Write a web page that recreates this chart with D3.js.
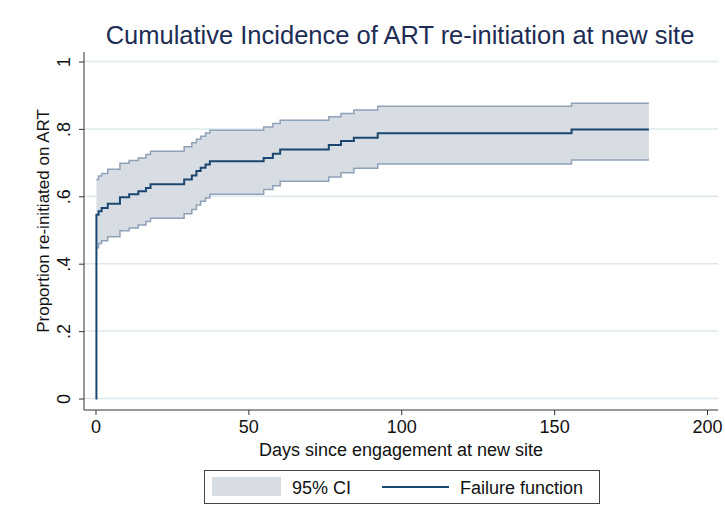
<!DOCTYPE html>
<html>
<head>
<meta charset="utf-8">
<script src="https://cdn.jsdelivr.net/npm/d3@7"></script>
<style>
  body { margin: 0; background: #fff; }
  text { font-family: "Liberation Sans", Arial, Helvetica, sans-serif; }
</style>
</head>
<body>
<div id="chart-area"></div>
<script>
// Data
const days    = [0, 0.3, 1, 2, 4, 8, 11, 14, 16.5, 18, 29, 31.5, 33, 34.4, 36, 37.4, 55, 58, 60.4, 76.3, 80.3, 84.5, 92.3, 155.7, 181]
const failure = [0, 0.545, 0.556, 0.565, 0.578, 0.597, 0.606, 0.615, 0.625, 0.636, 0.650, 0.662, 0.675, 0.685, 0.694, 0.704, 0.714, 0.726, 0.739, 0.752, 0.764, 0.774, 0.787, 0.798, 0.798]
const ciUpper = [null, 0.650, 0.660, 0.668, 0.680, 0.698, 0.706, 0.714, 0.724, 0.734, 0.747, 0.759, 0.769, 0.778, 0.788, 0.796, 0.806, 0.816, 0.826, 0.836, 0.846, 0.856, 0.867, 0.876, 0.876]
const ciLower = [null, 0.447, 0.460, 0.468, 0.480, 0.498, 0.506, 0.515, 0.525, 0.535, 0.548, 0.561, 0.574, 0.585, 0.595, 0.606, 0.620, 0.631, 0.645, 0.657, 0.670, 0.683, 0.696, 0.708, 0.708]

const xTicks = [0, 50, 100, 150, 200]
const yTicks = [0, 0.2, 0.4, 0.6, 0.8, 1]
const yTickLabels = ["0", ".2", ".4", ".6", ".8", "1"]

const titleText = "Cumulative Incidence of ART re-initiation at new site"
const xTitle = "Days since engagement at new site"
const yTitle = "Proportion re-initiated on ART"
const legendLabels = ["95% CI", "Failure function"]

// Canvas
const width = 725, height = 515
const plot = { left: 84, right: 718, top: 52, bottom: 410 }

const svg = d3.select("#chart-area")
	.append("svg")
	.attr("width", width)
	.attr("height", height)

const navy = "#1a476f", bandFill = "#d8dde4", bandEdge = "#8ea2b8", grid = "#dce8ed"

// Scales
const x = d3.scaleLinear().domain([0, 200]).range([95.5, 707])
const y = d3.scaleLinear().domain([0, 1]).range([398.5, 61.5])

// Gridlines
svg.append("g")
	.selectAll("line")
	.data(yTicks)
	.join("line")
	.attr("x1", plot.left).attr("x2", plot.right)
	.attr("y1", d => y(d)).attr("y2", d => y(d))
	.attr("stroke", grid)
	.attr("stroke-width", 1.5)

// CI band
const rows = days.map((d, i) => ({ day: d, f: failure[i], lo: ciLower[i], hi: ciUpper[i] }))
const ciRows = rows.filter(d => d.lo != null)

const area = d3.area()
	.curve(d3.curveStepAfter)
	.x(d => x(d.day))
	.y0(d => y(d.lo))
	.y1(d => y(d.hi))

svg.append("path")
	.attr("d", area(ciRows))
	.attr("fill", bandFill)

const edge = key => d3.line()
	.curve(d3.curveStepAfter)
	.x(d => x(d.day))
	.y(d => y(d[key]))

svg.append("path").attr("d", edge("hi")(ciRows))
	.attr("fill", "none").attr("stroke", bandEdge).attr("stroke-width", 1.5)
svg.append("path").attr("d", edge("lo")(ciRows))
	.attr("fill", "none").attr("stroke", bandEdge).attr("stroke-width", 1.5)

// Failure function
svg.append("path").attr("d", edge("f")(rows))
	.attr("fill", "none").attr("stroke", navy).attr("stroke-width", 2)

// Y axis (Stata style: vertical tick labels)
const yAxis = d3.axisLeft(y)
	.tickValues(yTicks)
	.tickFormat((d, i) => yTickLabels[i])
	.tickSize(5)

const yAxisG = svg.append("g")
	.attr("transform", `translate(${plot.left}, 0)`)
	.call(yAxis)
yAxisG.select(".domain").remove()
yAxisG.append("line")
	.attr("x1", 0).attr("x2", 0)
	.attr("y1", plot.top).attr("y2", plot.bottom)
	.attr("stroke", "#333")
yAxisG.selectAll(".tick line").attr("stroke", "#333")
yAxisG.selectAll(".tick text")
	.attr("x", null).attr("dy", null)
	.attr("font-size", 18)
	.attr("fill", "#111")
	.attr("text-anchor", "middle")
	.attr("dominant-baseline", "central")
	.attr("transform", "translate(-20, 0) rotate(-90)")

// X axis
const xAxis = d3.axisBottom(x)
	.tickValues(xTicks)
	.tickSize(5)
	.tickPadding(5)

const xAxisG = svg.append("g")
	.attr("transform", `translate(0, ${plot.bottom})`)
	.call(xAxis)
xAxisG.select(".domain").remove()
xAxisG.append("line")
	.attr("x1", plot.left).attr("x2", plot.right)
	.attr("y1", 0).attr("y2", 0)
	.attr("stroke", "#333")
xAxisG.selectAll(".tick line").attr("stroke", "#333")
xAxisG.selectAll(".tick text")
	.attr("font-size", 18)
	.attr("fill", "#111")

// Titles
svg.append("text")
	.attr("x", 400).attr("y", 44)
	.attr("text-anchor", "middle")
	.attr("font-size", 25.5)
	.attr("fill", "#1d2d54")
	.text(titleText)

svg.append("text")
	.attr("x", 401).attr("y", 456)
	.attr("text-anchor", "middle")
	.attr("font-size", 18)
	.attr("fill", "#111")
	.text(xTitle)

svg.append("text")
	.attr("transform", `translate(49, 221) rotate(-90)`)
	.attr("text-anchor", "middle")
	.attr("font-size", 17)
	.attr("fill", "#111")
	.text(yTitle)

// Legend
const legend = svg.append("g")
legend.append("rect")
	.attr("x", 204.5).attr("y", 470.5)
	.attr("width", 395).attr("height", 33)
	.attr("fill", "#fff")
	.attr("stroke", "#444")
legend.append("rect")
	.attr("x", 212).attr("y", 477)
	.attr("width", 69).attr("height", 19)
	.attr("fill", bandFill)
legend.append("text")
	.attr("x", 292).attr("y", 494)
	.attr("font-size", 18)
	.attr("fill", "#111")
	.text(legendLabels[0])
legend.append("line")
	.attr("x1", 382).attr("x2", 449)
	.attr("y1", 487).attr("y2", 487)
	.attr("stroke", navy)
	.attr("stroke-width", 2)
legend.append("text")
	.attr("x", 460).attr("y", 494)
	.attr("font-size", 18)
	.attr("fill", "#111")
	.text(legendLabels[1])
</script>
</body>
</html>
